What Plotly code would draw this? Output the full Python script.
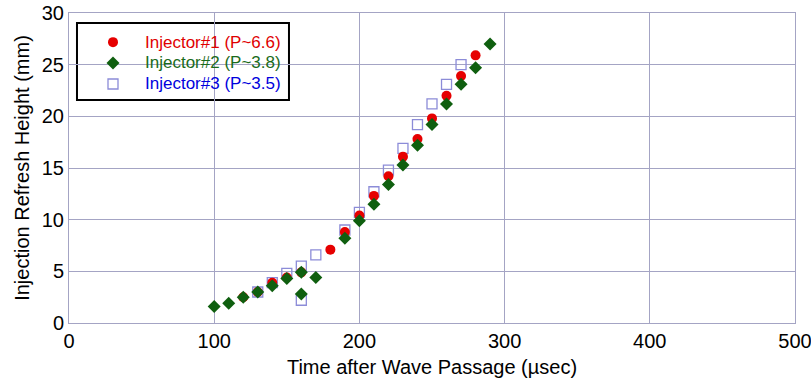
import plotly.graph_objects as go

# Injector #1 (P~6.6)
inj1_t = [120, 130, 140, 150, 160, 180, 190, 200, 210, 220, 230, 240, 250, 260, 270, 280]
inj1_h = [2.5, 3.0, 3.9, 4.4, 4.9, 7.1, 8.8, 10.4, 12.3, 14.2, 16.1, 17.8, 19.8, 22.0, 23.9, 25.9]

# Injector #2 (P~3.8)
inj2_t = [100, 110, 120, 130, 140, 150, 160, 160, 170, 190, 200, 210, 220, 230, 240, 250, 260, 270, 280, 290]
inj2_h = [1.6, 1.9, 2.5, 3.0, 3.6, 4.3, 4.9, 2.8, 4.4, 8.2, 9.9, 11.5, 13.4, 15.3, 17.2, 19.2, 21.2, 23.1, 24.7, 27.0]

# Injector #3 (P~3.5)
inj3_t = [130, 140, 150, 160, 160, 170, 190, 200, 210, 220, 230, 240, 250, 260, 270]
inj3_h = [3.0, 3.9, 4.8, 5.5, 2.2, 6.6, 9.0, 10.7, 12.7, 14.8, 16.9, 19.2, 21.2, 23.1, 25.0]

series_names = ["Injector#1 (P~6.6)", "Injector#2 (P~3.8)", "Injector#3 (P~3.5)"]

x_ticks = [0, 100, 200, 300, 400, 500]
y_ticks = [0, 5, 10, 15, 20, 25, 30]

FONT = "Liberation Sans, Arial, sans-serif"
GRID = "#a4a4c4"

styles = [
    dict(marker=dict(symbol="circle", size=10, color="#e60000"), text="#e00000"),
    dict(marker=dict(symbol="diamond", size=10, color="#0f5f0f"), text="#1a6b1a"),
    dict(marker=dict(symbol="square-open", size=10, color="#8c8cd8", line=dict(width=1.3)), text="#0000dd"),
]

fig = go.Figure()

# hollow squares first so the filled markers sit on top
fig.add_trace(go.Scatter(x=inj3_t, y=inj3_h, mode="markers", name=series_names[2],
                         marker=styles[2]["marker"], showlegend=False))
fig.add_trace(go.Scatter(x=inj1_t, y=inj1_h, mode="markers", name=series_names[0],
                         marker=styles[0]["marker"], showlegend=False))
fig.add_trace(go.Scatter(x=inj2_t, y=inj2_h, mode="markers", name=series_names[1],
                         marker=styles[1]["marker"], showlegend=False))

# boxed key in the upper-left corner of the plot area
key_left, key_right, key_top, key_bottom = 0.011, 0.303, 0.968, 0.719
key_rows = [0.906, 0.839, 0.771]
key_sym_x, key_text_x = 0.0606, 0.102

fig.add_shape(type="rect", xref="paper", yref="paper",
              x0=key_left, x1=key_right, y0=key_bottom, y1=key_top,
              line=dict(color="black", width=2), fillcolor="white", layer="between")

for name, st, ry in zip(series_names, styles, key_rows):
    fig.add_trace(go.Scatter(x=[key_sym_x], y=[ry], xaxis="x2", yaxis="y2",
                             mode="markers", marker=st["marker"], showlegend=False,
                             hoverinfo="skip", cliponaxis=False))
    fig.add_annotation(x=key_text_x, y=ry, xref="paper", yref="paper",
                       xanchor="left", yanchor="middle", showarrow=False,
                       text=name, font=dict(family=FONT, size=17, color=st["text"]))

fig.update_layout(
    width=811, height=387,
    margin=dict(l=69, r=16, t=13, b=64, autoexpand=False),
    paper_bgcolor="white", plot_bgcolor="white",
    font=dict(family=FONT, size=20, color="black"),
    showlegend=False,
    xaxis=dict(
        range=[0, 500], tickvals=x_ticks, ticktext=[str(v) for v in x_ticks],
        showgrid=True, gridcolor=GRID, gridwidth=1,
        showline=True, linecolor=GRID, linewidth=1, mirror=True,
        zeroline=False, ticks="", ticklen=0, ticklabeloverflow="allow",
        automargin=False,
        title=dict(text="Time after Wave Passage (µsec)", standoff=8,
                   font=dict(family=FONT, size=20)),
        tickfont=dict(family=FONT, size=20),
    ),
    yaxis=dict(
        range=[0, 30], tickvals=y_ticks, ticktext=[str(v) for v in y_ticks],
        showgrid=True, gridcolor=GRID, gridwidth=1,
        showline=True, linecolor=GRID, linewidth=1, mirror=True,
        zeroline=False, ticks="", ticklen=0, ticklabeloverflow="allow",
        automargin=False,
        title=dict(text="Injection Refresh Height (mm)", standoff=6,
                   font=dict(family=FONT, size=20)),
        tickfont=dict(family=FONT, size=20),
    ),
    xaxis2=dict(overlaying="x", range=[0, 1], visible=False, fixedrange=True),
    yaxis2=dict(overlaying="y", range=[0, 1], visible=False, fixedrange=True),
)

fig.write_html("out.html")
